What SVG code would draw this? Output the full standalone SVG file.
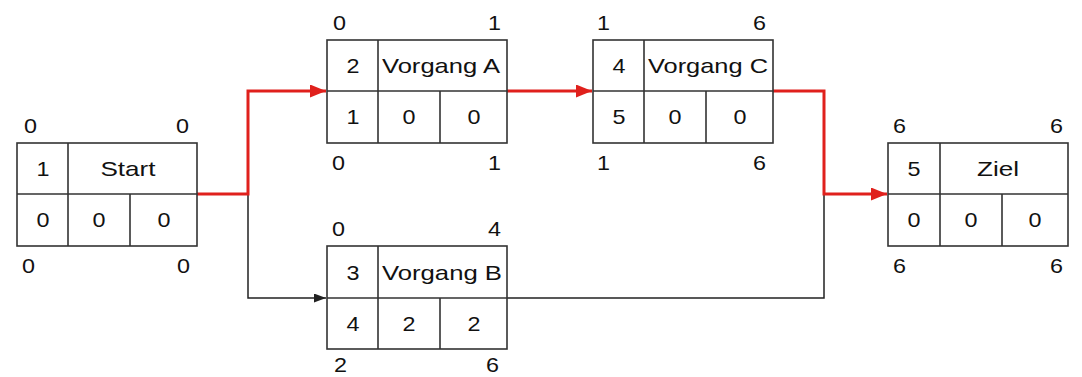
<svg xmlns="http://www.w3.org/2000/svg" width="1082" height="377" viewBox="0 0 1082 377">
  <style>
    .box { fill: #ffffff; stroke: #333333; stroke-width: 1.6; }
    .ln { stroke: #333333; stroke-width: 1.6; fill: none; }
    text { font-family: "Liberation Sans", Arial, sans-serif; font-size: 21px; fill: #111111; }
    .c { text-anchor: middle; }
    .e { text-anchor: end; }
    .red { stroke: #e0201c; stroke-width: 3; fill: none; }
    .blk { stroke: #222222; stroke-width: 1.5; fill: none; }
  </style>
  <defs>
    <marker id="arrRed" markerUnits="userSpaceOnUse" markerWidth="16" markerHeight="13" refX="16" refY="6.5" orient="auto">
      <path d="M0,0 L16,6.5 L0,13 z" fill="#e0201c"/>
    </marker>
    <marker id="arrBlk" markerUnits="userSpaceOnUse" markerWidth="12" markerHeight="9" refX="12" refY="4.5" orient="auto">
      <path d="M0,0 L12,4.5 L0,9 z" fill="#222222"/>
    </marker>
  </defs>
  <rect width="1082" height="377" fill="#ffffff"/>

  <g id="connectors">
    <path class="blk" d="M248,194 V298 H326" marker-end="url(#arrBlk)"/>
    <path class="blk" d="M507,298 H824 V194"/>
    <path class="red" d="M197,194 H248 V91 H326" marker-end="url(#arrRed)"/>
    <path class="red" d="M507,91 H592" marker-end="url(#arrRed)"/>
    <path class="red" d="M773,91 H824 V194 H887" marker-end="url(#arrRed)"/>
  </g>

  <g id="node-start">
    <rect class="box" x="17" y="143" width="180" height="103"/>
    <path class="ln" d="M17,194 H197 M68,143 V246 M130,194 V246"/>
    <text x="24" y="133" textLength="13" lengthAdjust="spacingAndGlyphs">0</text>
    <text class="e" x="189" y="133" textLength="13" lengthAdjust="spacingAndGlyphs">0</text>
    <text x="22" y="273" textLength="13" lengthAdjust="spacingAndGlyphs">0</text>
    <text class="e" x="190" y="273" textLength="13" lengthAdjust="spacingAndGlyphs">0</text>
    <text class="c" x="43" y="176" textLength="13" lengthAdjust="spacingAndGlyphs">1</text>
    <text class="c" x="128" y="176" textLength="55" lengthAdjust="spacingAndGlyphs">Start</text>
    <text class="c" x="43" y="227" textLength="13" lengthAdjust="spacingAndGlyphs">0</text>
    <text class="c" x="99" y="227" textLength="13" lengthAdjust="spacingAndGlyphs">0</text>
    <text class="c" x="164" y="227" textLength="13" lengthAdjust="spacingAndGlyphs">0</text>
  </g>

  <g id="node-a">
    <rect class="box" x="327" y="40" width="180" height="103"/>
    <path class="ln" d="M327,91 H507 M378,40 V143 M440,91 V143"/>
    <text x="333" y="30" textLength="13" lengthAdjust="spacingAndGlyphs">0</text>
    <text class="e" x="501" y="30" textLength="13" lengthAdjust="spacingAndGlyphs">1</text>
    <text x="332" y="170" textLength="13" lengthAdjust="spacingAndGlyphs">0</text>
    <text class="e" x="501" y="170" textLength="13" lengthAdjust="spacingAndGlyphs">1</text>
    <text class="c" x="353" y="73" textLength="13" lengthAdjust="spacingAndGlyphs">2</text>
    <text class="c" x="441" y="73" textLength="118" lengthAdjust="spacingAndGlyphs">Vorgang A</text>
    <text class="c" x="353" y="124" textLength="13" lengthAdjust="spacingAndGlyphs">1</text>
    <text class="c" x="409" y="124" textLength="13" lengthAdjust="spacingAndGlyphs">0</text>
    <text class="c" x="474" y="124" textLength="13" lengthAdjust="spacingAndGlyphs">0</text>
  </g>

  <g id="node-c">
    <rect class="box" x="593" y="40" width="180" height="103"/>
    <path class="ln" d="M593,91 H773 M644,40 V143 M706,91 V143"/>
    <text x="597" y="30" textLength="13" lengthAdjust="spacingAndGlyphs">1</text>
    <text class="e" x="766" y="30" textLength="13" lengthAdjust="spacingAndGlyphs">6</text>
    <text x="597" y="170" textLength="13" lengthAdjust="spacingAndGlyphs">1</text>
    <text class="e" x="766" y="170" textLength="13" lengthAdjust="spacingAndGlyphs">6</text>
    <text class="c" x="619" y="73" textLength="13" lengthAdjust="spacingAndGlyphs">4</text>
    <text class="c" x="708" y="73" textLength="120" lengthAdjust="spacingAndGlyphs">Vorgang C</text>
    <text class="c" x="619" y="124" textLength="13" lengthAdjust="spacingAndGlyphs">5</text>
    <text class="c" x="675" y="124" textLength="13" lengthAdjust="spacingAndGlyphs">0</text>
    <text class="c" x="740" y="124" textLength="13" lengthAdjust="spacingAndGlyphs">0</text>
  </g>

  <g id="node-b">
    <rect class="box" x="327" y="246" width="180" height="103"/>
    <path class="ln" d="M327,298 H507 M378,246 V349 M440,298 V349"/>
    <text x="332" y="236" textLength="13" lengthAdjust="spacingAndGlyphs">0</text>
    <text class="e" x="501" y="236" textLength="13" lengthAdjust="spacingAndGlyphs">4</text>
    <text x="334" y="372" textLength="13" lengthAdjust="spacingAndGlyphs">2</text>
    <text class="e" x="499" y="372" textLength="13" lengthAdjust="spacingAndGlyphs">6</text>
    <text class="c" x="353" y="280" textLength="13" lengthAdjust="spacingAndGlyphs">3</text>
    <text class="c" x="442" y="280" textLength="120" lengthAdjust="spacingAndGlyphs">Vorgang B</text>
    <text class="c" x="353" y="331" textLength="13" lengthAdjust="spacingAndGlyphs">4</text>
    <text class="c" x="409" y="331" textLength="13" lengthAdjust="spacingAndGlyphs">2</text>
    <text class="c" x="474" y="331" textLength="13" lengthAdjust="spacingAndGlyphs">2</text>
  </g>

  <g id="node-ziel">
    <rect class="box" x="888" y="143" width="180" height="103"/>
    <path class="ln" d="M888,194 H1068 M940,143 V246 M1002,194 V246"/>
    <text x="893" y="133" textLength="13" lengthAdjust="spacingAndGlyphs">6</text>
    <text class="e" x="1063" y="133" textLength="13" lengthAdjust="spacingAndGlyphs">6</text>
    <text x="893" y="273" textLength="13" lengthAdjust="spacingAndGlyphs">6</text>
    <text class="e" x="1063" y="273" textLength="13" lengthAdjust="spacingAndGlyphs">6</text>
    <text class="c" x="914" y="176" textLength="13" lengthAdjust="spacingAndGlyphs">5</text>
    <text class="c" x="998" y="176" textLength="42" lengthAdjust="spacingAndGlyphs">Ziel</text>
    <text class="c" x="914" y="227" textLength="13" lengthAdjust="spacingAndGlyphs">0</text>
    <text class="c" x="971" y="227" textLength="13" lengthAdjust="spacingAndGlyphs">0</text>
    <text class="c" x="1035" y="227" textLength="13" lengthAdjust="spacingAndGlyphs">0</text>
  </g>
</svg>
